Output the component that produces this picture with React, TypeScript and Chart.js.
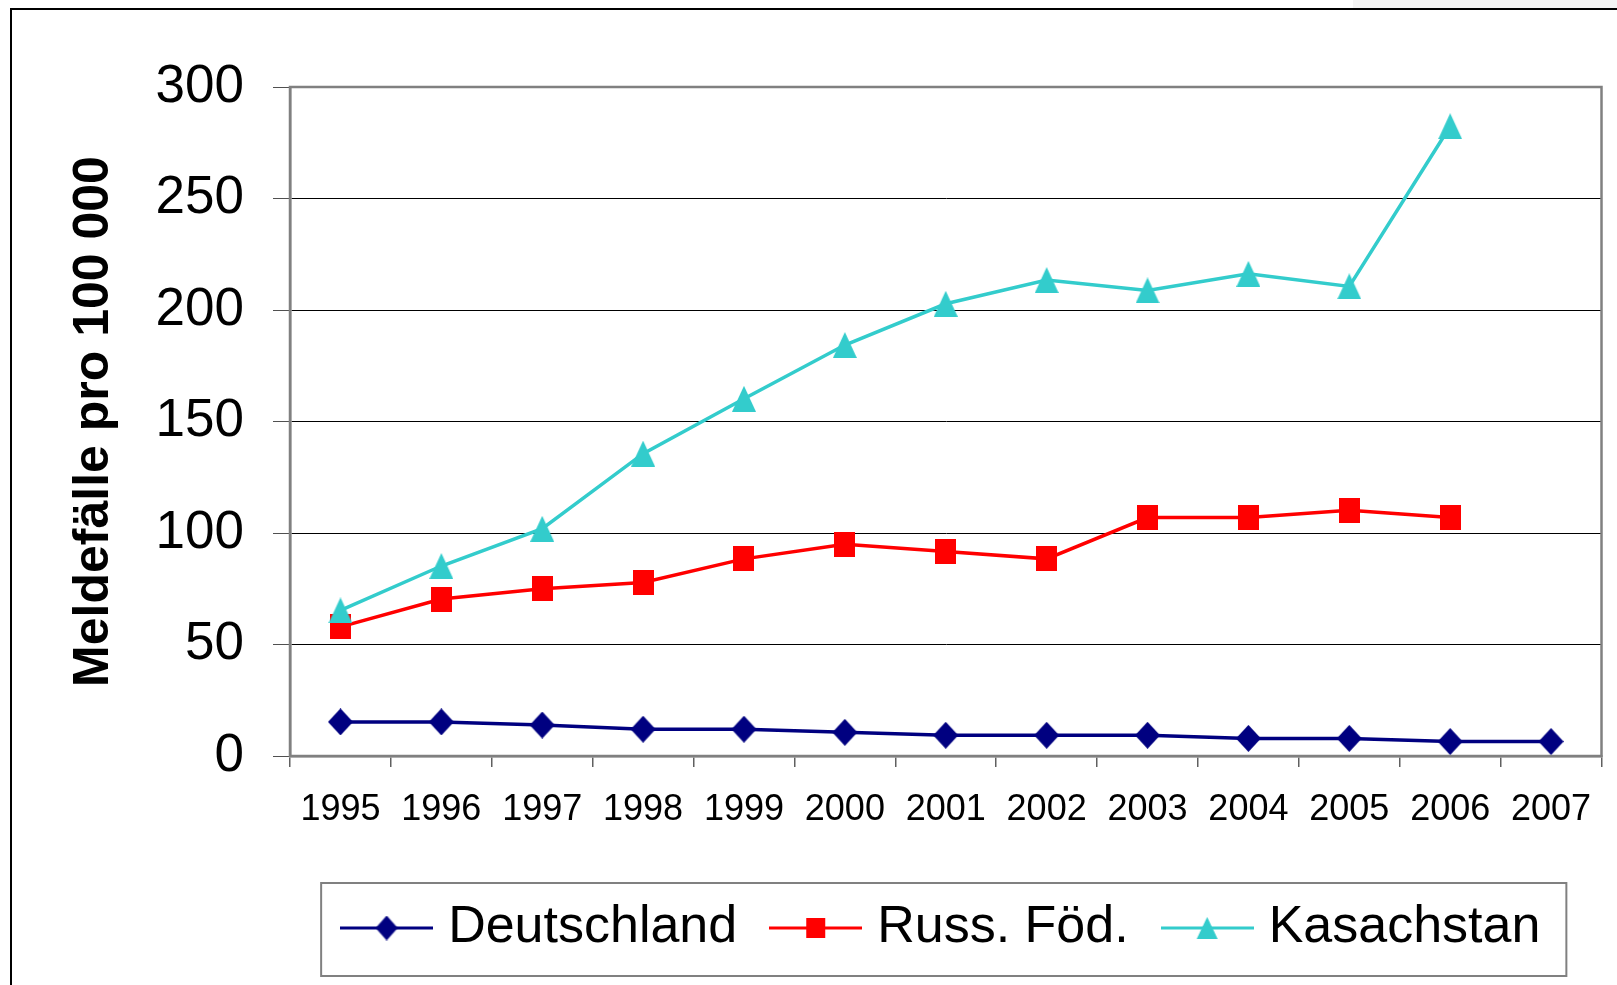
import React, { useEffect, useRef } from "react";
import { Chart, registerables } from "chart.js";

Chart.register(...registerables);

const years = ["1995", "1996", "1997", "1998", "1999", "2000", "2001", "2002", "2003", "2004", "2005", "2006", "2007"];
const deutschland = [15.3, 15.3, 13.9, 12.0, 12.0, 10.6, 9.3, 9.3, 9.3, 7.9, 7.9, 6.5, 6.5];
const russFoed = [57.9, 70.4, 75.0, 77.8, 88.4, 94.9, 91.7, 88.4, 106.9, 106.9, 110.2, 106.9, null];
const kasachstan = [65.3, 85.2, 101.9, 135.6, 160.2, 184.3, 202.8, 213.4, 208.8, 216.2, 210.6, 282.4, null];
const seriesNames = ["Deutschland", "Russ. Föd.", "Kasachstan"];
const seriesColors = ["#000080", "#FF0000", "#33CCCC"];
const yMin = 0;
const yMax = 300;
const yStep = 50;
const yTitle = "Meldefälle pro 100 000";

const FONT = "'Liberation Sans', Arial, sans-serif";

function markerCanvas(kind: string, color: string, w: number, h: number) {
  const c = document.createElement("canvas");
  c.width = w;
  c.height = h;
  const g = c.getContext("2d")!;
  g.fillStyle = color;
  g.beginPath();
  if (kind === "diamond") {
    g.moveTo(w / 2, 0);
    g.lineTo(w, h / 2);
    g.lineTo(w / 2, h);
    g.lineTo(0, h / 2);
  } else if (kind === "square") {
    g.rect(0, 0, w, h);
  } else {
    g.moveTo(w / 2, 0);
    g.lineTo(w, h);
    g.lineTo(0, h);
  }
  g.closePath();
  g.fill();
  return c;
}

function legendIcon(marker: HTMLCanvasElement, color: string) {
  const w = 93;
  const h = 30;
  const c = document.createElement("canvas");
  c.width = w;
  c.height = h;
  const g = c.getContext("2d")!;
  g.strokeStyle = color;
  g.lineWidth = 3;
  g.beginPath();
  g.moveTo(0, h / 2);
  g.lineTo(w, h / 2);
  g.stroke();
  g.drawImage(marker, (w - marker.width) / 2, (h - marker.height) / 2);
  return c;
}

export default function App() {
  const ref = useRef<HTMLCanvasElement | null>(null);

  useEffect(() => {
    if (!ref.current) return;
    const markers = [
      markerCanvas("diamond", seriesColors[0], 25, 27),
      markerCanvas("square", seriesColors[1], 21, 25),
      markerCanvas("triangle", seriesColors[2], 24, 26),
    ];
    const legendMarkers = [
      markerCanvas("diamond", seriesColors[0], 22, 25),
      markerCanvas("square", seriesColors[1], 19, 20),
      markerCanvas("triangle", seriesColors[2], 21, 22),
    ];
    const icons = legendMarkers.map((m, i) => legendIcon(m, seriesColors[i]));
    const values = [deutschland, russFoed, kasachstan];

    const plotFrame = {
      id: "plotFrame",
      beforeDatasetsDraw(chart: any) {
        const { ctx, chartArea: a } = chart;
        ctx.save();
        ctx.strokeStyle = "#808080";
        ctx.lineWidth = 2.5;
        ctx.strokeRect(a.left, a.top, a.right - a.left, a.bottom - a.top);
        ctx.restore();
      },
    };

    const legendFrame = {
      id: "legendFrame",
      afterDraw(chart: any) {
        const hb = chart.legend && chart.legend.legendHitBoxes;
        if (!hb || !hb.length) return;
        const first = hb[0];
        const last = hb[hb.length - 1];
        const left = first.left - 30;
        const right = last.left + last.width + 26;
        const cy = first.top + first.height / 2;
        const ctx = chart.ctx;
        ctx.save();
        ctx.strokeStyle = "#808080";
        ctx.lineWidth = 2;
        ctx.strokeRect(left, cy - 45, right - left, 93);
        ctx.restore();
      },
    };

    const chart = new Chart(ref.current, {
      type: "line",
      data: {
        labels: years,
        datasets: seriesNames.map((name, i) => ({
          label: name,
          data: values[i],
          borderColor: seriesColors[i],
          backgroundColor: seriesColors[i],
          borderWidth: 3.5,
          pointStyle: markers[i],
          pointRadius: 12,
          tension: 0,
          spanGaps: false,
          order: 2 - i,
        })),
      },
      options: {
        animation: false,
        responsive: false,
        devicePixelRatio: 1,
        layout: { padding: { left: 0, top: 87, right: 14, bottom: 21 } },
        plugins: {
          tooltip: { enabled: false },
          legend: {
            position: "bottom",
            fullSize: false,
            labels: {
              usePointStyle: true,
              pointStyleWidth: 71,
              padding: 43,
              color: "#000",
              font: { family: FONT, size: 52 },
              sort: (a: any, b: any) => a.datasetIndex - b.datasetIndex,
              generateLabels: (ch: any) =>
                ch.data.datasets.map((ds: any, i: number) => ({
                  text: ds.label,
                  pointStyle: icons[i],
                  datasetIndex: i,
                  hidden: false,
                  fillStyle: "transparent",
                  strokeStyle: "transparent",
                  lineWidth: 0,
                  fontColor: "#000",
                })),
            },
          },
        },
        scales: {
          x: {
            type: "category",
            offset: true,
            grid: {
              offset: true,
              drawOnChartArea: false,
              drawTicks: true,
              tickLength: 11,
              color: "#606060",
              lineWidth: 1.5,
            },
            border: { color: "#808080", width: 2.5 },
            ticks: {
              color: "#000",
              font: { family: FONT, size: 36 },
              padding: 21,
              maxRotation: 0,
              minRotation: 0,
              autoSkip: false,
            },
            afterFit: (s: any) => {
              s.height = 103;
            },
          },
          y: {
            min: yMin,
            max: yMax,
            ticks: {
              stepSize: yStep,
              color: "#000",
              font: { family: FONT, size: 53 },
              padding: 29,
            },
            grid: {
              color: "#000",
              lineWidth: 1,
              tickLength: 17,
              tickColor: "#505050",
            },
            border: { color: "#808080", width: 2.5 },
            title: {
              display: true,
              text: yTitle,
              color: "#000",
              font: { family: FONT, size: 50, weight: "bold" },
              padding: { top: 64, bottom: 0 },
            },
            afterFit: (s: any) => {
              s.width = 290;
            },
          },
        },
      },
      plugins: [plotFrame, legendFrame],
    } as any);
    return () => chart.destroy();
  }, []);

  return (
    <div style={{ position: "absolute", left: 0, top: 0, width: 1617, height: 985, overflow: "hidden", background: "#fff" }}>
      <div style={{ position: "absolute", left: 1353, top: 0, width: 264, height: 9, background: "#f4f4f4" }} />
      <div
        style={{
          position: "absolute",
          left: 10,
          top: 8,
          width: 1700,
          height: 1100,
          borderTop: "2px solid #000",
          borderLeft: "2px solid #000",
        }}
      />
      <canvas ref={ref} width={1617} height={985} style={{ position: "absolute", left: 0, top: 0, width: 1617, height: 985 }} />
    </div>
  );
}
